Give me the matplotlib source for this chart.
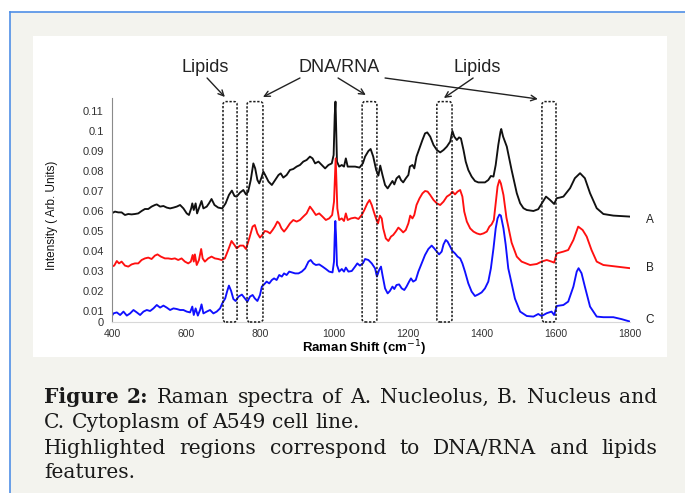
import matplotlib
matplotlib.use("Agg")
import matplotlib.pyplot as plt
from matplotlib.patches import Rectangle, FancyBboxPatch
from matplotlib.lines import Line2D

# Spectrum A (nucleolus, black)
shift_a = [399, 408, 417, 426, 435, 444, 453, 462, 471, 480, 489, 498, 507, 516, 521, 530, 539, 548,
           557, 566, 575, 584, 593, 602, 608, 614, 617, 621, 626, 630, 638, 642, 647, 656, 662, 669,
           677, 687, 698, 707, 716, 724, 731, 737, 746, 755, 762, 768, 775, 782, 787, 793, 798, 804,
           809, 814, 823, 832, 841, 850, 856, 863, 872, 881, 890, 899, 908, 917, 926, 935, 942, 949,
           958, 967, 976, 985, 994, 999, 1002, 1004, 1005, 1008, 1014, 1021, 1027, 1032, 1037, 1046,
           1057, 1069, 1078, 1084, 1093, 1099, 1106, 1114, 1120, 1125, 1131, 1138, 1145, 1151, 1158,
           1163, 1169, 1176, 1181, 1187, 1194, 1201, 1205, 1212, 1217, 1223, 1231, 1239, 1246, 1252,
           1260, 1269, 1278, 1287, 1296, 1305, 1314, 1320, 1325, 1332, 1338, 1343, 1350, 1356, 1363,
           1372, 1381, 1390, 1399, 1408, 1417, 1424, 1431, 1437, 1444, 1450, 1452, 1457, 1467, 1480,
           1494, 1503, 1512, 1521, 1539, 1552, 1563, 1573, 1584, 1595, 1602, 1610, 1620, 1638, 1651,
           1665, 1678, 1692, 1710, 1728, 1755, 1800]
int_a = [0.0586, 0.0595, 0.0591, 0.0591, 0.0578, 0.0583, 0.0581, 0.0583, 0.0586, 0.0598, 0.0608,
         0.0608, 0.0620, 0.0628, 0.0631, 0.0620, 0.0623, 0.0615, 0.0611, 0.0615, 0.0620, 0.0628,
         0.0611, 0.0586, 0.0578, 0.0611, 0.0636, 0.0603, 0.0636, 0.0586, 0.0628, 0.0648, 0.0611,
         0.0620, 0.0636, 0.0658, 0.0628, 0.0615, 0.0611, 0.0636, 0.0678, 0.0700, 0.0673, 0.0670,
         0.0690, 0.0703, 0.0681, 0.0695, 0.0753, 0.0836, 0.0811, 0.0753, 0.0736, 0.0765, 0.0795,
         0.0778, 0.0745, 0.0728, 0.0753, 0.0778, 0.0786, 0.0765, 0.0778, 0.0803, 0.0808, 0.0820,
         0.0828, 0.0845, 0.0853, 0.0870, 0.0861, 0.0836, 0.0845, 0.0828, 0.0811, 0.0828, 0.0836,
         0.0878, 0.1078, 0.1145, 0.1078, 0.0845, 0.0820, 0.0828, 0.0820, 0.0861, 0.0820, 0.0820,
         0.0820, 0.0815, 0.0836, 0.0870, 0.0898, 0.0908, 0.0870, 0.0803, 0.0775, 0.0825, 0.0778,
         0.0728, 0.0711, 0.0728, 0.0748, 0.0731, 0.0761, 0.0773, 0.0753, 0.0741, 0.0761, 0.0778,
         0.0820, 0.0828, 0.0811, 0.0870, 0.0911, 0.0953, 0.0986, 0.0991, 0.0970, 0.0928, 0.0903,
         0.0891, 0.0903, 0.0920, 0.0945, 0.0998, 0.0970, 0.0953, 0.0966, 0.0961, 0.0903, 0.0845,
         0.0803, 0.0770, 0.0748, 0.0741, 0.0741, 0.0741, 0.0753, 0.0773, 0.0770, 0.0828, 0.0928,
         0.0995, 0.1008, 0.0970, 0.0920, 0.0803, 0.0687, 0.0637, 0.0612, 0.0603, 0.0598, 0.0607,
         0.0640, 0.0670, 0.0653, 0.0633, 0.0662, 0.0665, 0.0670, 0.0712, 0.0762, 0.0787, 0.0762,
         0.0687, 0.0612, 0.0583, 0.0575, 0.0570]

# Spectrum B (nucleus, red)
shift_b = [399, 406, 413, 419, 426, 435, 444, 453, 462, 471, 480, 489, 498, 507, 516, 523, 532, 543,
           552, 561, 570, 579, 588, 597, 606, 613, 618, 621, 624, 629, 635, 641, 645, 651, 660, 669,
           678, 687, 696, 705, 714, 723, 731, 737, 746, 755, 762, 771, 780, 786, 793, 800, 806, 813,
           820, 827, 834, 840, 847, 852, 858, 865, 872, 881, 890, 899, 908, 917, 926, 935, 942, 951,
           960, 969, 978, 987, 995, 1000, 1003, 1004.5, 1006, 1009, 1014, 1021, 1027, 1032, 1037,
           1046, 1057, 1066, 1075, 1082, 1090, 1096, 1102, 1109, 1115, 1119, 1124, 1129, 1133, 1140,
           1147, 1154, 1160, 1167, 1174, 1181, 1187, 1194, 1201, 1206, 1212, 1217, 1223, 1231, 1239,
           1246, 1253, 1260, 1269, 1278, 1287, 1296, 1305, 1314, 1320, 1327, 1334, 1341, 1347, 1352,
           1359, 1368, 1377, 1386, 1395, 1404, 1413, 1420, 1426, 1432, 1437, 1442, 1447, 1451, 1458,
           1466, 1480, 1494, 1507, 1530, 1548, 1561, 1575, 1588, 1595, 1602, 1620, 1633, 1647, 1660,
           1672, 1683, 1696, 1710, 1728, 1764, 1800]
int_b = [0.0320, 0.0325, 0.0348, 0.0336, 0.0345, 0.0325, 0.0320, 0.0331, 0.0336, 0.0336, 0.0353,
         0.0361, 0.0365, 0.0358, 0.0375, 0.0381, 0.0370, 0.0361, 0.0361, 0.0358, 0.0361, 0.0353,
         0.0361, 0.0345, 0.0336, 0.0345, 0.0378, 0.0345, 0.0381, 0.0328, 0.0353, 0.0408, 0.0361,
         0.0345, 0.0361, 0.0370, 0.0361, 0.0358, 0.0353, 0.0361, 0.0403, 0.0448, 0.0428, 0.0411,
         0.0425, 0.0425, 0.0408, 0.0461, 0.0520, 0.0528, 0.0486, 0.0465, 0.0478, 0.0498, 0.0495,
         0.0486, 0.0503, 0.0520, 0.0545, 0.0536, 0.0511, 0.0495, 0.0511, 0.0536, 0.0553, 0.0545,
         0.0553, 0.0570, 0.0586, 0.0620, 0.0603, 0.0578, 0.0586, 0.0570, 0.0553, 0.0561, 0.0578,
         0.0645, 0.0795, 0.0861, 0.0778, 0.0611, 0.0553, 0.0561, 0.0548, 0.0586, 0.0553, 0.0561,
         0.0565, 0.0558, 0.0578, 0.0603, 0.0636, 0.0653, 0.0628, 0.0586, 0.0553, 0.0536, 0.0575,
         0.0561, 0.0511, 0.0461, 0.0448, 0.0470, 0.0478, 0.0495, 0.0515, 0.0503, 0.0491, 0.0503,
         0.0536, 0.0575, 0.0561, 0.0578, 0.0628, 0.0661, 0.0686, 0.0698, 0.0695, 0.0678, 0.0653,
         0.0636, 0.0628, 0.0645, 0.0670, 0.0681, 0.0695, 0.0681, 0.0695, 0.0703, 0.0670, 0.0595,
         0.0545, 0.0511, 0.0495, 0.0486, 0.0481, 0.0486, 0.0495, 0.0520, 0.0531, 0.0553, 0.0636,
         0.0720, 0.0753, 0.0736, 0.0678, 0.0565, 0.0440, 0.0370, 0.0345, 0.0328, 0.0333, 0.0345,
         0.0353, 0.0345, 0.0340, 0.0386, 0.0395, 0.0403, 0.0453, 0.0520, 0.0503, 0.0470, 0.0403,
         0.0345, 0.0328, 0.0320, 0.0312]

# Spectrum C (cytoplasm, blue)
shift_c = [397, 404, 413, 422, 431, 440, 449, 458, 467, 476, 485, 494, 503, 512, 521, 530, 539, 548,
           557, 566, 575, 584, 593, 602, 611, 617, 621, 626, 632, 638, 642, 647, 656, 665, 674, 683,
           692, 698, 706, 711, 716, 722, 728, 734, 742, 751, 759, 766, 773, 780, 786, 793, 800, 805,
           811, 818, 825, 832, 838, 845, 852, 859, 865, 872, 879, 886, 895, 904, 913, 922, 931, 937,
           944, 951, 960, 969, 978, 987, 996, 1000, 1002, 1003.6, 1005.4, 1008, 1014, 1021, 1027,
           1032, 1039, 1048, 1057, 1063, 1070, 1078, 1084, 1093, 1102, 1111, 1116, 1122, 1127, 1131,
           1138, 1145, 1151, 1158, 1163, 1169, 1176, 1183, 1190, 1196, 1203, 1208, 1214, 1221, 1228,
           1237, 1246, 1255, 1264, 1271, 1278, 1284, 1291, 1296, 1302, 1307, 1314, 1320, 1327, 1334,
           1341, 1347, 1354, 1363, 1372, 1381, 1390, 1399, 1408, 1417, 1424, 1431, 1437, 1442, 1447,
           1451, 1458, 1464, 1471, 1476, 1489, 1503, 1521, 1539, 1552, 1561, 1575, 1588, 1595, 1602,
           1620, 1633, 1647, 1656, 1661, 1669, 1678, 1692, 1710, 1728, 1755, 1778, 1800]
int_c = [0.0065, 0.0086, 0.0091, 0.0078, 0.0095, 0.0075, 0.0086, 0.0103, 0.0091, 0.0078, 0.0095,
         0.0103, 0.0098, 0.0111, 0.0128, 0.0115, 0.0125, 0.0115, 0.0103, 0.0111, 0.0108, 0.0103,
         0.0103, 0.0095, 0.0091, 0.0120, 0.0078, 0.0111, 0.0075, 0.0103, 0.0131, 0.0086, 0.0095,
         0.0103, 0.0086, 0.0095, 0.0111, 0.0136, 0.0161, 0.0195, 0.0225, 0.0198, 0.0158, 0.0148,
         0.0170, 0.0180, 0.0161, 0.0145, 0.0170, 0.0178, 0.0161, 0.0148, 0.0178, 0.0220, 0.0231,
         0.0245, 0.0236, 0.0253, 0.0261, 0.0253, 0.0278, 0.0270, 0.0286, 0.0278, 0.0295, 0.0291,
         0.0286, 0.0286, 0.0295, 0.0311, 0.0345, 0.0353, 0.0336, 0.0328, 0.0331, 0.0320, 0.0308,
         0.0295, 0.0291, 0.0345, 0.0478, 0.0548, 0.0478, 0.0328, 0.0295, 0.0308, 0.0295, 0.0315,
         0.0295, 0.0298, 0.0320, 0.0336, 0.0325, 0.0336, 0.0358, 0.0353, 0.0336, 0.0311, 0.0270,
         0.0303, 0.0320, 0.0278, 0.0211, 0.0186, 0.0198, 0.0220, 0.0208, 0.0228, 0.0231, 0.0211,
         0.0203, 0.0220, 0.0245, 0.0261, 0.0245, 0.0253, 0.0295, 0.0336, 0.0378, 0.0408, 0.0425,
         0.0411, 0.0395, 0.0381, 0.0395, 0.0431, 0.0453, 0.0445, 0.0420, 0.0398, 0.0386, 0.0370,
         0.0361, 0.0336, 0.0295, 0.0236, 0.0195, 0.0173, 0.0181, 0.0191, 0.0211, 0.0245, 0.0311,
         0.0411, 0.0511, 0.0561, 0.0580, 0.0575, 0.0511, 0.0430, 0.0311, 0.0270, 0.0160, 0.0095,
         0.0073, 0.0070, 0.0083, 0.0073, 0.0087, 0.0095, 0.0078, 0.0123, 0.0128, 0.0145, 0.0220,
         0.0295, 0.0312, 0.0287, 0.0220, 0.0120, 0.0070, 0.0067, 0.0067, 0.0057, 0.0045]

# highlighted bands (cm-1)
regions = [(700, 738), (765, 808), (1076, 1116), (1278, 1319), (1562, 1600)]
# labels above the plot: text, x position, arrows as (start x, tip x, tip y)
callouts = [
    ("Lipids", 651, [(657, 705, 0.1168)]),
    ("DNA/RNA", 1014, [(908, 808, 0.1168), (1011, 1086, 0.1178), (1138, 1551, 0.1158)]),
    ("Lipids", 1386, [(1376, 1297, 0.1163)]),
]
xticks = [400, 600, 800, 1000, 1200, 1400, 1600, 1800]
ytick_vals = [0.01, 0.02, 0.03, 0.04, 0.05, 0.06, 0.07, 0.08, 0.09, 0.10, 0.11]
ytick_labels = ["0.01", "0.02", "0.03", "0.04", "0.05", "0.06", "0.07", "0.08", "0.09", "0.1", "0.11"]

Y0, Y1 = 0.0043, 0.1163
W, H = 685, 493

fig = plt.figure(figsize=(W / 100, H / 100), dpi=100)
fig.patch.set_facecolor("white")


def fx(px):
    return px / W


def fy(py):
    return 1 - py / H


# page panel, blue rule and white figure box
fig.patches.append(Rectangle((fx(10), 0), 1, fy(12), transform=fig.transFigure,
                             facecolor="#f3f3ee", edgecolor="none", zorder=-2))
fig.lines.append(Line2D([fx(10), 1], [fy(12), fy(12)], transform=fig.transFigure,
                        color="#4f8fe6", lw=1.2, zorder=-1))
fig.lines.append(Line2D([fx(10), fx(10)], [0, fy(12)], transform=fig.transFigure,
                        color="#4f8fe6", lw=1.2, zorder=-1))
fig.patches.append(Rectangle((fx(33), fy(357)), fx(667) - fx(33), fy(36) - fy(357),
                             transform=fig.transFigure, facecolor="white",
                             edgecolor="none", zorder=-1))

ax = fig.add_axes([fx(112), fy(322), fx(630) - fx(112), fy(98) - fy(322)])
ax.set_zorder(2)
ax.set_facecolor("none")
ax.plot(shift_a, int_a, color="#111111", lw=1.35)
ax.plot(shift_b, int_b, color="#ff1010", lw=1.35)
ax.plot(shift_c, int_c, color="#1010ff", lw=1.35)

for x0, x1 in regions:
    box = FancyBboxPatch((x0, Y0), x1 - x0, 0.1145 - Y0,
                         boxstyle="round,pad=0,rounding_size=8",
                         mutation_aspect=0.0015 / 8, fill=False,
                         edgecolor="#1a1a1a", lw=1.1, linestyle=(0, (1.5, 1.1)),
                         clip_on=False, zorder=3)
    ax.add_patch(box)

for text, xt, arrows in callouts:
    ax.text(xt, 0.1313, text, ha="center", va="center", fontsize=13,
            family="Liberation Sans", color="#222222", clip_on=False)
    for xs, xe, ye in arrows:
        ax.annotate("", xy=(xe, ye), xytext=(xs, 0.1263), annotation_clip=False,
                    arrowprops=dict(arrowstyle="->", lw=1.0, color="#222222",
                                    shrinkA=0, shrinkB=0, mutation_scale=10))

for name, yv in [("A", 0.0553), ("B", 0.0313), ("C", 0.0053)]:
    ax.text(1854, yv, name, ha="center", va="center", fontsize=8.5,
            family="Liberation Sans", color="#222222", clip_on=False)

ax.set_xlim(400, 1800)
ax.set_ylim(Y0, Y1)
ax.set_xticks(xticks)
ax.set_xticklabels([str(t) for t in xticks])
ax.set_yticks([Y0] + ytick_vals)
ax.set_yticklabels(["0"] + ytick_labels)
ax.tick_params(axis="x", length=0, labelsize=7.5, labelcolor="#333333", pad=5)
ax.tick_params(axis="y", length=0, labelsize=8, labelcolor="#333333", pad=6)
for lab in ax.get_xticklabels() + ax.get_yticklabels():
    lab.set_family("Liberation Sans")
for side in ["top", "right"]:
    ax.spines[side].set_visible(False)
ax.spines["left"].set_color("#8a8a8a")
ax.spines["bottom"].set_color("#d8d8d8")
ax.set_xlabel("Raman Shift (cm$^{-1}$)", fontsize=9.5, fontweight="bold",
              family="Liberation Sans", labelpad=0)
ax.xaxis.set_label_coords(0.486, -0.075)
ax.set_ylabel("Intensity ( Arb. Units)", fontsize=8.5, family="Liberation Sans",
              color="#111111")
ax.yaxis.set_label_coords(-0.104, 0.475)

# caption, set as a justified paragraph
renderer = fig.canvas.get_renderer()
cap_size = 14.6


def caption_line(words, base, justify=True):
    arts = []
    for w, wt in words:
        arts.append(fig.text(0, fy(base), w, fontsize=cap_size, fontweight=wt,
                             family="DejaVu Serif", color="#1a1a1a", va="baseline"))
    widths = [a.get_window_extent(renderer).width for a in arts]
    left, right = 44, 657
    if justify and len(arts) > 1:
        gap = (right - left - sum(widths)) / (len(arts) - 1)
    else:
        gap = 0.318 * cap_size * 100 / 72
    x = left
    for a, w in zip(arts, widths):
        a.set_x(fx(x))
        x += w + gap


def words_of(s, wt="normal"):
    return [(w, wt) for w in s.split()]


caption_line(words_of("Figure 2:", "bold") + words_of("Raman spectra of A. Nucleolus, B. Nucleus and"), 403)
caption_line(words_of("C. Cytoplasm of A549 cell line."), 428, justify=False)
caption_line(words_of("Highlighted regions correspond to DNA/RNA and lipids"), 454)
caption_line(words_of("features."), 478, justify=False)

fig.savefig("out.png", dpi=100)
